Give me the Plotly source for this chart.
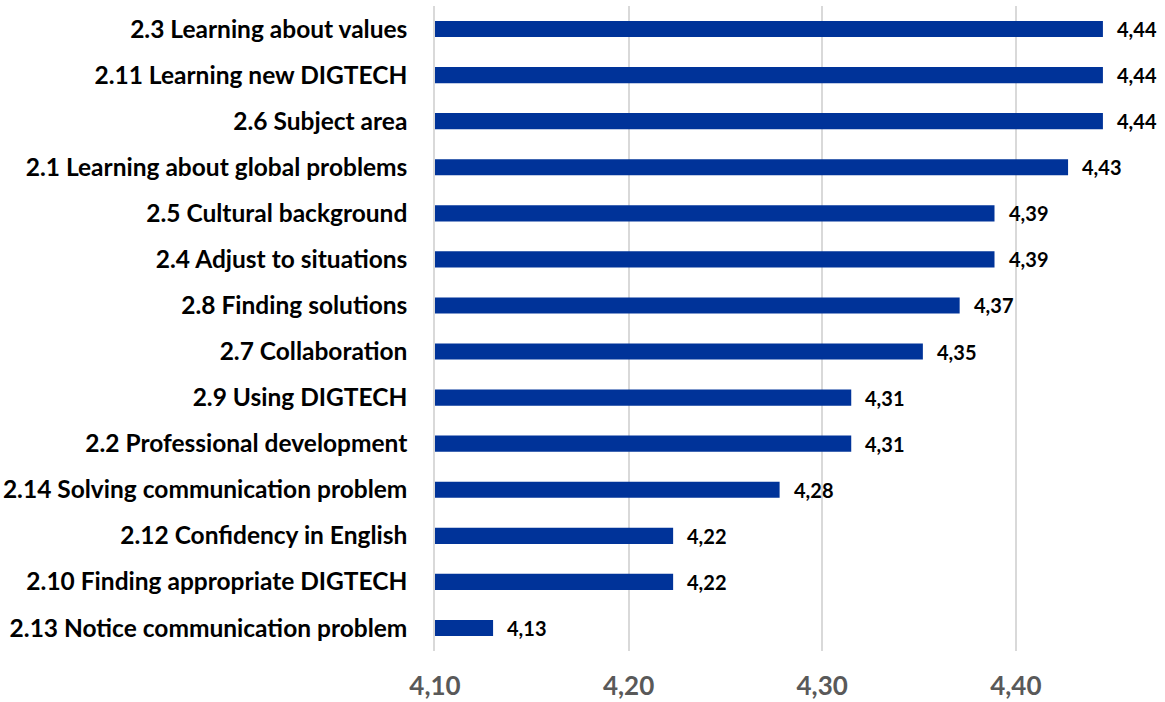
import plotly.graph_objects as go

categories = [
    "2.3 Learning about values",
    "2.11 Learning new DIGTECH",
    "2.6 Subject area",
    "2.1 Learning about global problems",
    "2.5 Cultural background",
    "2.4 Adjust to situations",
    "2.8 Finding solutions",
    "2.7 Collaboration",
    "2.9 Using DIGTECH",
    "2.2 Professional development",
    "2.14 Solving communication problem",
    "2.12 Confidency in English",
    "2.10 Finding appropriate DIGTECH",
    "2.13 Notice communication problem",
]
values = [4.445, 4.445, 4.445, 4.427, 4.389, 4.389, 4.371, 4.352,
          4.315, 4.315, 4.278, 4.223, 4.223, 4.130]
value_labels = ["4,44", "4,44", "4,44", "4,43", "4,39", "4,39", "4,37", "4,35",
                "4,31", "4,31", "4,28", "4,22", "4,22", "4,13"]
x_ticks = [4.10, 4.20, 4.30, 4.40]
x_tick_labels = ["4,10", "4,20", "4,30", "4,40"]

FONT = "Lato"

fig = go.Figure()
fig.add_trace(go.Bar(
    y=categories,
    x=values,
    orientation="h",
    marker=dict(color="#003399", line=dict(width=0)),
    width=0.35,
))

for c, v, t in zip(categories, values, value_labels):
    fig.add_annotation(
        x=v, y=c, text=t, showarrow=False, xanchor="left", yanchor="middle",
        xshift=12,
        font=dict(family=FONT, size=20, color="#000000", weight="bold"),
    )

fig.update_layout(
    width=1165, height=702,
    margin=dict(l=435, r=4, t=6, b=51, autoexpand=False),
    paper_bgcolor="white", plot_bgcolor="white",
    showlegend=False,
    font=dict(family=FONT),
)
fig.update_xaxes(
    range=[4.10, 4.475],
    tickvals=x_ticks, ticktext=x_tick_labels,
    showgrid=True, gridcolor="#d9d9d9", gridwidth=1.5,
    zeroline=False, showline=False,
    tickfont=dict(family=FONT, size=26, color="#595959", weight="bold"),
    ticks="", ticklabelstandoff=17, automargin=False,
)
fig.update_yaxes(
    categoryorder="array", categoryarray=categories,
    autorange="reversed",
    showgrid=False, zeroline=False,
    showline=True, linecolor="#d9d9d9", linewidth=1.5,
    ticks="", ticklabelstandoff=21, automargin=False,
    tickfont=dict(family=FONT, size=24.5, color="#000000", weight="bold"),
)

fig.write_html("out.html")
